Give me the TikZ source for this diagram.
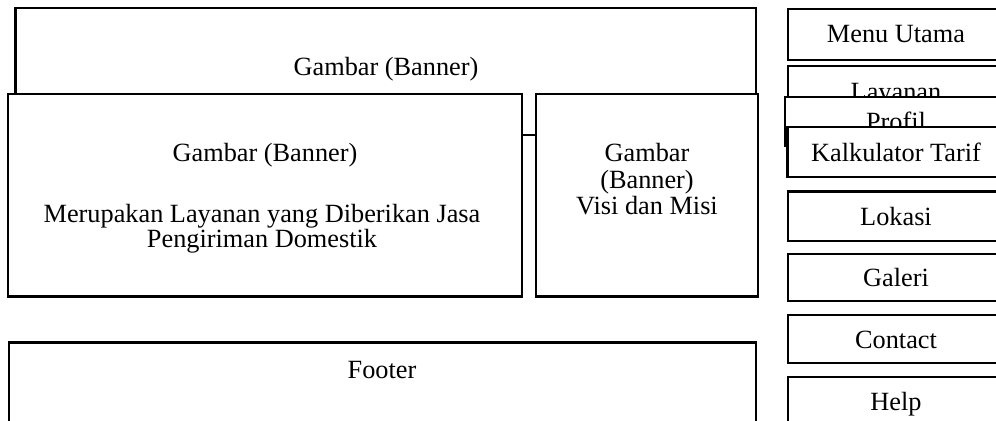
\documentclass[tikz,border=0pt]{standalone}
\usepackage{fontspec}
\setmainfont{Liberation Serif}
\usetikzlibrary{fit}
\tikzset{
  box/.style={draw=black, fill=white, line width=1.1pt, inner sep=0pt, rectangle},
  lbl/.style={anchor=base, inner sep=0pt, font=\fontsize{13.15}{15}\selectfont},
}
\begin{document}
\begin{tikzpicture}[x=0.5pt, y=-0.5pt]
\useasboundingbox (0,0) rectangle (996,421);
\clip (0,0) rectangle (996,421);
% main area
\node[box, fit={(15.5,8) (756,135)}] (banner) {};
\node[lbl] (bannert) at (386,76) {Gambar (Banner)};
\node[box, fit={(8,94) (522,296.5)}] (left) {};
\node[lbl] (leftt1) at (265,162) {Gambar (Banner)};
\node[lbl] (leftt2) at (262,222.7) {Merupakan Layanan yang Diberikan Jasa};
\node[lbl] (leftt3) at (262,247.3) {Pengiriman Domestik};
\node[box, fit={(536,94) (757.6,296.5)}] (right) {};
\node[lbl] (rightt1) at (647,162) {Gambar};
\node[lbl] (rightt2) at (647,188.5) {(Banner)};
\node[lbl] (rightt3) at (647,215) {Visi dan Misi};
\node[box, fit={(9,342.5) (756,440)}] (footer) {};
\node[lbl] (footert) at (382,379) {Footer};
% menu column
\node[box, fit={(788,9) (1004,60)}] (menu) {};
\node[lbl] (menut) at (896,43) {Menu Utama};
\node[box, fit={(788,66) (1004,116)}] (layanan) {};
\node[lbl] (layanant) at (896,100.5) {Layanan};
\node[box, fit={(785,97) (1004,146)}] (profil) {};
\node[lbl] (profilt) at (896,131) {Profil};
\node[box, fit={(787.5,127) (1004,177)}] (kalk) {};
\node[lbl] (kalkt) at (896,161.5) {Kalkulator Tarif};
\node[box, fit={(788,191.5) (1004,241)}] (lokasi) {};
\node[lbl] (lokasit) at (896,226) {Lokasi};
\node[box, fit={(788,254) (1004,301)}] (galeri) {};
\node[lbl] (galerit) at (896,287) {Galeri};
\node[box, fit={(788,315) (1004,363)}] (contact) {};
\node[lbl] (contactt) at (896,349) {Contact};
\node[box, fit={(788,377) (1004,430)}] (help) {};
\node[lbl] (helpt) at (896,411) {Help};
\end{tikzpicture}
\end{document}
